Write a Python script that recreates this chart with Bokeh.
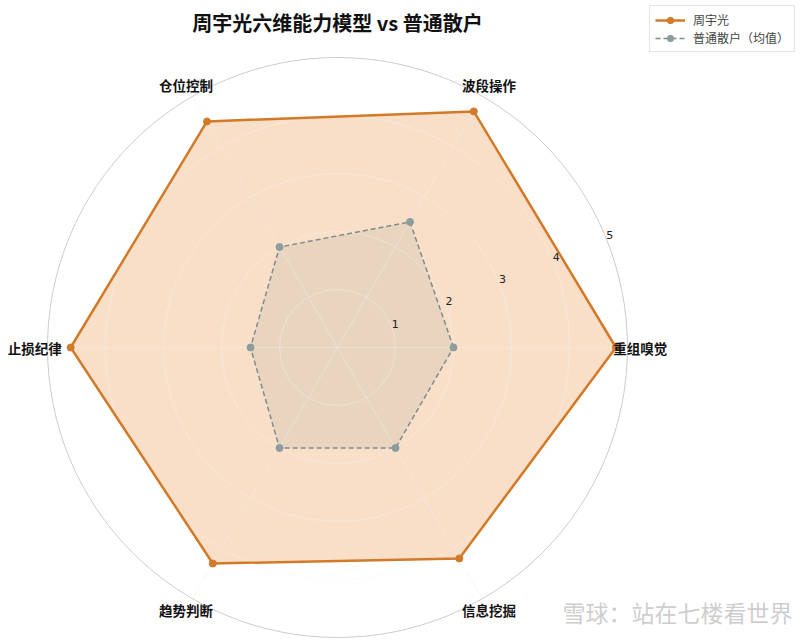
import numpy as np
from bokeh.plotting import figure
from bokeh.models import Legend, LegendItem
from bokeh.core.properties import value
from bokeh.embed import file_html
from bokeh.resources import INLINE

categories = ["重组嗅觉", "波段操作", "仓位控制", "止损纪律", "趋势判断", "信息挖掘"]
zhou = [4.8, 4.7, 4.5, 4.6, 4.3, 4.2]
retail = [2.0, 2.5, 2.0, 1.5, 2.0, 2.0]
r_ticks = [1, 2, 3, 4, 5]
r_max = 5
title_text = "周宇光六维能力模型 vs 普通散户"
series_names = ["周宇光", "普通散户（均值）"]
watermark = "雪球：站在七楼看世界"

CJK = "Noto Sans CJK SC"
ORANGE = "#d27a28"
ORANGE_FILL = "#e67e22"
GRAY = "#7f8c8d"
GRAY_M = "#8d9c9e"

W, H = 800, 640
PX = 58.0          # pixels per radial unit
CX, CY = 337, 347  # centre in canvas pixels (from top-left)

p = figure(width=W, height=H,
           x_range=(-CX / PX, (W - CX) / PX),
           y_range=(-(H - CY) / PX, CY / PX),
           x_axis_type=None, y_axis_type=None,
           output_backend="svg", toolbar_location=None, min_border=0)
p.grid.visible = False
p.outline_line_color = None
p.background_fill_color = "white"

n = len(categories)
theta = np.arange(n) * 2 * np.pi / n


def polar(vals):
    v = np.asarray(vals, dtype=float)
    return v * np.cos(theta), v * np.sin(theta)


# outer spine
p.circle(x=[0], y=[0], radius=[r_max], fill_color=None, line_color="#cccccc", line_width=1)

# series polygons
zx, zy = polar(zhou)
rx, ry = polar(retail)

p.patch(list(zx), list(zy), fill_color=ORANGE_FILL, fill_alpha=0.25, line_color=None)
p.patch(list(rx), list(ry), fill_color=GRAY, fill_alpha=0.12, line_color=None)

# grid (drawn faintly over fills)
p.circle(x=[0] * (len(r_ticks) - 1), y=[0] * (len(r_ticks) - 1), radius=r_ticks[:-1],
         fill_color=None, line_color="#f6f6f6", line_alpha=0.45, line_width=0.8)
p.segment(x0=[0] * n, y0=[0] * n, x1=list(r_max * np.cos(theta)), y1=list(r_max * np.sin(theta)),
          line_color="#f0f0f0", line_alpha=0.55, line_width=0.8)

zl = p.line(list(zx) + [zx[0]], list(zy) + [zy[0]], line_color=ORANGE, line_width=2.5)
zs = p.scatter(list(zx), list(zy), marker="circle", size=7, fill_color=ORANGE, line_color=ORANGE)

rl = p.line(list(rx) + [rx[0]], list(ry) + [ry[0]], line_color=GRAY, line_width=1.5, line_dash="5 3")
rs = p.scatter(list(rx), list(ry), marker="circle", size=7, fill_color=GRAY_M, line_color=GRAY_M)

# radial tick labels
ang = np.deg2rad(22.5)
p.text(x=[(t + 0.08) * np.cos(ang) for t in r_ticks], y=[(t + 0.08) * np.sin(ang) for t in r_ticks],
       text=[str(t) for t in r_ticks], text_font=value("DejaVu Sans"), text_font_size="11px",
       text_color="#222222", text_align="center", text_baseline="middle")

# category labels
lr = 5.22
p.text(x=list(lr * np.cos(theta)), y=list(lr * np.sin(theta)), text=categories,
       text_font=value(CJK), text_font_size="13.5px", text_font_style="bold",
       text_color="#111111", text_align="center", text_baseline="middle")

# title
p.text(x=[0.0], y=[(CY - 22) / PX], text=[title_text], text_font=value(CJK),
       text_font_size="20px", text_font_style="bold", text_color="#111111",
       text_align="center", text_baseline="middle")

# watermark
p.text(x=[(W - 8 - CX) / PX], y=[(CY - 611) / PX], text=[watermark], text_font=value(CJK),
       text_font_size="23px", text_color="#c8c8c8", text_alpha=0.9,
       text_align="right", text_baseline="middle")

legend = Legend(items=[LegendItem(label=series_names[0], renderers=[zl, zs]),
                       LegendItem(label=series_names[1], renderers=[rl, rs])],
                location="top_right")
legend.margin = 5
legend.padding = 5
legend.spacing = 1
legend.glyph_width = 30
legend.glyph_height = 16
legend.label_height = 16
legend.label_standoff = 8
legend.label_text_font = CJK
legend.label_text_font_size = "12px"
legend.border_line_color = "#cccccc"
legend.background_fill_alpha = 0.85
p.add_layout(legend)

open("out.html", "w").write(file_html(p, INLINE))
